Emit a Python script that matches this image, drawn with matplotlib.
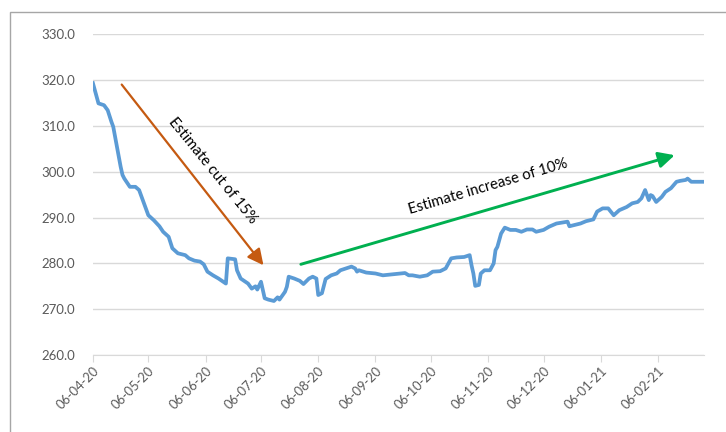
import pandas as pd
import matplotlib.pyplot as plt
from matplotlib.patches import Rectangle

plt.rcParams['font.family'] = ['Lato', 'DejaVu Sans']

dates = ['2020-04-06', '2020-04-09', '2020-04-12', '2020-04-14', '2020-04-16', '2020-04-17',
         '2020-04-19', '2020-04-21', '2020-04-22', '2020-04-23', '2020-04-26', '2020-04-29',
         '2020-05-01', '2020-05-03', '2020-05-06', '2020-05-09', '2020-05-12', '2020-05-14',
         '2020-05-17', '2020-05-19', '2020-05-22', '2020-05-26', '2020-05-28', '2020-05-31',
         '2020-06-03', '2020-06-05', '2020-06-07', '2020-06-10', '2020-06-13', '2020-06-17',
         '2020-06-18', '2020-06-22', '2020-06-23', '2020-06-25', '2020-06-29', '2020-07-01',
         '2020-07-03', '2020-07-04', '2020-07-06', '2020-07-07', '2020-07-08', '2020-07-10',
         '2020-07-13', '2020-07-15', '2020-07-16', '2020-07-19', '2020-07-20', '2020-07-21',
         '2020-07-24', '2020-07-27', '2020-07-29', '2020-08-01', '2020-08-03', '2020-08-05',
         '2020-08-06', '2020-08-08', '2020-08-10', '2020-08-13', '2020-08-16', '2020-08-18',
         '2020-08-21', '2020-08-24', '2020-08-26', '2020-08-27', '2020-08-28', '2020-09-01',
         '2020-09-06', '2020-09-10', '2020-09-15', '2020-09-22', '2020-09-24', '2020-09-26',
         '2020-09-30', '2020-10-04', '2020-10-07', '2020-10-11', '2020-10-14', '2020-10-17',
         '2020-10-20', '2020-10-24', '2020-10-27', '2020-10-28', '2020-10-29', '2020-10-30',
         '2020-11-01', '2020-11-02', '2020-11-04', '2020-11-07', '2020-11-09', '2020-11-10',
         '2020-11-11', '2020-11-13', '2020-11-15', '2020-11-18', '2020-11-21', '2020-11-24',
         '2020-11-27', '2020-11-30', '2020-12-02', '2020-12-06', '2020-12-09', '2020-12-13',
         '2020-12-16', '2020-12-19', '2020-12-20', '2020-12-26', '2020-12-29', '2021-01-02',
         '2021-01-04', '2021-01-07', '2021-01-10', '2021-01-12', '2021-01-13', '2021-01-16',
         '2021-01-20', '2021-01-23', '2021-01-26', '2021-01-28', '2021-01-30', '2021-02-01',
         '2021-02-02', '2021-02-03', '2021-02-05', '2021-02-08', '2021-02-10', '2021-02-13',
         '2021-02-16', '2021-02-18', '2021-02-21', '2021-02-22', '2021-02-24', '2021-03-02']

values = [319.3, 314.9, 314.5, 313.4, 310.9, 309.8,
          305.4, 301.1, 299.3, 298.5, 296.7, 296.7,
          296.0, 293.8, 290.5, 289.4, 288.1, 286.9,
          285.8, 283.3, 282.2, 281.8, 281.1, 280.6,
          280.4, 279.8, 278.2, 277.4, 276.7, 275.6,
          281.1, 280.9, 278.5, 276.7, 275.6, 274.5,
          275.0, 274.3, 276.0, 274.2, 272.4, 272.1,
          271.8, 272.6, 272.1, 273.8, 274.9, 277.1,
          276.7, 276.2, 275.5, 276.7, 277.1, 276.7,
          273.1, 273.5, 276.6, 277.4, 277.8, 278.5,
          278.9, 279.3, 278.9, 278.2, 278.5, 278.0,
          277.8, 277.4, 277.6, 277.9, 277.4, 277.4,
          277.1, 277.4, 278.2, 278.3, 278.9, 281.1,
          281.3, 281.4, 281.8, 279.6, 277.8, 275.1,
          275.3, 277.8, 278.5, 278.5, 280.0, 282.9,
          283.6, 286.5, 287.8, 287.3, 287.3, 286.9,
          287.4, 287.4, 286.9, 287.3, 288.0, 288.7,
          288.9, 289.1, 288.1, 288.7, 289.2, 289.6,
          291.3, 292.0, 292.0, 291.0, 290.5, 291.6,
          292.3, 293.1, 293.4, 294.2, 296.0, 293.8,
          294.9, 294.7, 293.4, 294.5, 295.6, 296.4,
          297.8, 298.0, 298.2, 298.5, 297.8, 297.8]

tick_dates = ['2020-04-06', '2020-05-06', '2020-06-06', '2020-07-06', '2020-08-06', '2020-09-06',
              '2020-10-06', '2020-11-06', '2020-12-06', '2021-01-06', '2021-02-06']
tick_labels = ['06-04-20', '06-05-20', '06-06-20', '06-07-20', '06-08-20', '06-09-20',
               '06-10-20', '06-11-20', '06-12-20', '06-01-21', '06-02-21']
y_ticks = [260, 270, 280, 290, 300, 310, 320, 330]

# arrows: (start date, start value) -> (end date, end value)
cut_arrow = [('2020-04-21 14:00', 319.0), ('2020-07-07 08:00', 279.6)]
rise_arrow = [('2020-07-27 14:00', 279.8), ('2021-02-15', 303.6)]
cut_label = ('Estimate cut of 15%', '2020-06-10', 300.3)
rise_label = ('Estimate increase of 10%', '2020-11-06', 296.7)

dates = pd.to_datetime(dates)
tick_dates = pd.to_datetime(tick_dates)

fig = plt.figure(figsize=(7.26, 4.32), dpi=100)
ax = fig.add_axes([0.128, 0.178, 0.842, 0.743])

ax.plot(dates, values, color='#5b9bd5', lw=2.7, solid_joinstyle='round')

ax.set_ylim(260, 330)
ax.set_xlim(pd.Timestamp('2020-04-06'), pd.Timestamp('2021-03-03'))
ax.set_yticks(y_ticks)
ax.set_yticklabels([f'{v:.1f}' for v in y_ticks])
ax.set_xticks(tick_dates)
ax.set_xticklabels(tick_labels, rotation=45, ha='right', rotation_mode='anchor')

ax.yaxis.grid(True, color='#d9d9d9', lw=1)
ax.set_axisbelow(True)
for s in ['left', 'right', 'top']:
    ax.spines[s].set_visible(False)
ax.spines['bottom'].set_color('#d9d9d9')
ax.tick_params(axis='y', length=0, pad=13, labelsize=9.5, labelcolor='#595959')
ax.tick_params(axis='x', length=5, color='#d9d9d9', labelsize=9.3, labelcolor='#595959', pad=2)

for arr, col, lw in [(cut_arrow, '#c55a11', 1.6), (rise_arrow, '#00b050', 2.1)]:
    (x0, y0), (x1, y1) = arr
    ax.annotate('', xy=(pd.Timestamp(x1), y1), xytext=(pd.Timestamp(x0), y0),
                arrowprops=dict(arrowstyle='-|>', color=col, lw=lw, mutation_scale=24,
                                shrinkA=0, shrinkB=0))

ax.text(pd.Timestamp(cut_label[1]), cut_label[2], cut_label[0], rotation=-51,
        rotation_mode='anchor', ha='center', va='center', fontsize=10.7, color='black')
ax.text(pd.Timestamp(rise_label[1]), rise_label[2], rise_label[0], rotation=16.5,
        rotation_mode='anchor', ha='center', va='center', fontsize=10.7, color='black')

fig.add_artist(Rectangle((10 / 726, -0.1), 1.2, 1.1 - 12 / 432, transform=fig.transFigure,
                         fill=False, edgecolor='#a6a6a6', lw=1))

fig.savefig('out.png', dpi=100)
